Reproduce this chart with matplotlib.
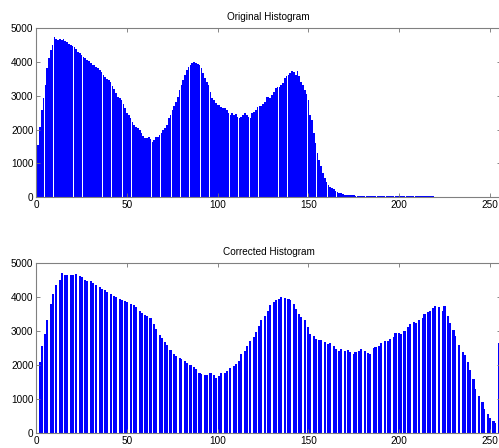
import numpy as np
import matplotlib
matplotlib.use("Agg")
import matplotlib.pyplot as plt

plt.rcParams['font.family'] = ['Liberation Sans', 'DejaVu Sans']

# grey levels 0..255
levels = np.arange(256)

# counts per grey level, original image
original_counts = [
    1250, 1550, 2090, 2580, 2920, 3320, 3810, 4100, 4350, 4500,
    4720, 4670, 4650, 4670, 4660, 4680, 4620, 4600, 4520, 4490,
    4480, 4430, 4370, 4300, 4250, 4200, 4150, 4100, 4050, 4020,
    3960, 3920, 3900, 3860, 3810, 3760, 3710, 3610, 3540, 3480,
    3460, 3410, 3290, 3190, 3070, 2970, 2920, 2870, 2760, 2630,
    2480, 2430, 2330, 2230, 2140, 2070, 2040, 1990, 1910, 1810,
    1740, 1740, 1770, 1710, 1640, 1690, 1770, 1770, 1840, 1910,
    1990, 2040, 2140, 2330, 2430, 2580, 2700, 2820, 2970, 3170,
    3320, 3460, 3610, 3760, 3860, 3910, 3960, 4000, 3980, 3940,
    3910, 3810, 3660, 3510, 3410, 3320, 3120, 2920, 2870, 2780,
    2730, 2730, 2680, 2630, 2650, 2580, 2480, 2430, 2480, 2430,
    2460, 2380, 2330, 2380, 2430, 2480, 2430, 2360, 2330, 2500,
    2530, 2580, 2660, 2700, 2700, 2760, 2820, 2950, 2950, 2920,
    3020, 3120, 3220, 3270, 3250, 3320, 3390, 3510, 3580, 3610,
    3680, 3740, 3710, 3610, 3740, 3580, 3410, 3320, 3170, 3050,
    2870, 2430, 2280, 1890, 1590, 1300, 1100, 910, 710, 560,
    460, 360, 310, 270, 240, 200, 170, 140, 120, 100,
    80, 80, 70, 60, 60, 55, 50, 50, 45, 45,
    45, 45, 40, 40, 40, 40, 35, 35, 35, 35,
    35, 35, 35, 35, 35, 35, 35, 35, 35, 35,
    35, 35, 35, 35, 35, 35, 35, 35, 35, 35,
    35, 35, 35, 35, 35, 35, 35, 35, 35, 35,
    0, 0, 0, 0, 0, 0, 0, 0, 0, 0,
    0, 0, 0, 0, 0, 0, 0, 0, 0, 0,
    0, 0, 0, 0, 0, 0, 0, 0, 0, 0,
    0, 0, 0, 0, 0, 0,
]

# counts per grey level after contrast stretching
corrected_counts = [
    2720, 0, 2090, 2580, 0, 2920, 3320, 0, 3810, 4100,
    0, 4350, 0, 4500, 4720, 0, 4670, 4650, 0, 4670,
    4660, 0, 4680, 0, 4620, 4600, 0, 4520, 4490, 0,
    4480, 4430, 0, 4370, 0, 4300, 4250, 0, 4200, 4150,
    0, 4100, 0, 4050, 4020, 0, 3960, 3920, 0, 3900,
    3860, 0, 3810, 0, 3760, 3710, 0, 3610, 3540, 0,
    3480, 3460, 0, 3380, 0, 3200, 3080, 0, 2900, 2800,
    0, 2680, 2600, 0, 2460, 0, 2330, 2280, 0, 2220,
    2180, 0, 2130, 2060, 0, 2000, 0, 1940, 1880, 0,
    1780, 1750, 0, 1720, 1720, 0, 1770, 0, 1710, 1640,
    0, 1690, 1770, 0, 1770, 1840, 0, 1910, 0, 1990,
    2040, 0, 2140, 2330, 0, 2430, 2580, 0, 2700, 0,
    2820, 2970, 0, 3170, 3320, 0, 3460, 0, 3610, 3760,
    0, 3860, 3910, 0, 3960, 4000, 0, 3980, 0, 3940,
    3910, 0, 3810, 3660, 0, 3510, 3410, 0, 3320, 0,
    3120, 2920, 0, 2870, 2780, 0, 2730, 2730, 0, 2680,
    0, 2630, 2650, 0, 2580, 2480, 0, 2430, 2480, 0,
    2430, 0, 2460, 2380, 0, 2330, 2380, 0, 2430, 2480,
    0, 2430, 0, 2360, 2330, 0, 2500, 2530, 0, 2580,
    2660, 0, 2700, 0, 2700, 2760, 0, 2820, 2950, 0,
    2950, 2920, 0, 3020, 0, 3120, 3220, 0, 3270, 3250,
    0, 3320, 0, 3390, 3510, 0, 3580, 3610, 0, 3680,
    3740, 0, 3710, 0, 3610, 3740, 0, 3450, 3250, 0,
    3050, 2850, 0, 2600, 0, 2400, 2300, 0, 2100, 1850,
    0, 1590, 1300, 0, 1100, 0, 910, 710, 0, 560,
    460, 0, 360, 310, 0, 2650,
]

titles = ["Original Histogram", "Corrected Histogram"]
bar_widths = [0.92, 1.2]
xticks = [0, 50, 100, 150, 200, 250]
yticks = [0, 1000, 2000, 3000, 4000, 5000]

fig = plt.figure(figsize=(4.99, 4.48), dpi=100)
ax1 = fig.add_axes([0.0727, 0.5596, 0.9307, 0.3779])
ax2 = fig.add_axes([0.0727, 0.0328, 0.9307, 0.3795])

for ax, counts, title, w in zip([ax1, ax2], [original_counts, corrected_counts], titles, bar_widths):
    ax.bar(levels, counts, width=w, color=(0, 0, 1), edgecolor='none', linewidth=0)
    ax.set_xlim(0, 256)
    ax.set_ylim(0, 5000)
    ax.set_xticks(xticks)
    ax.set_yticks(yticks)
    ax.tick_params(direction='in', length=3, width=0.6, color='0.45',
                   labelsize=7.2, pad=2, top=True, right=True)
    for s in ax.spines.values():
        s.set_color('0.5')
        s.set_linewidth(0.8)
    ax.set_title(title, fontsize=7.2, pad=6)

fig.savefig("out.png", dpi=100)
